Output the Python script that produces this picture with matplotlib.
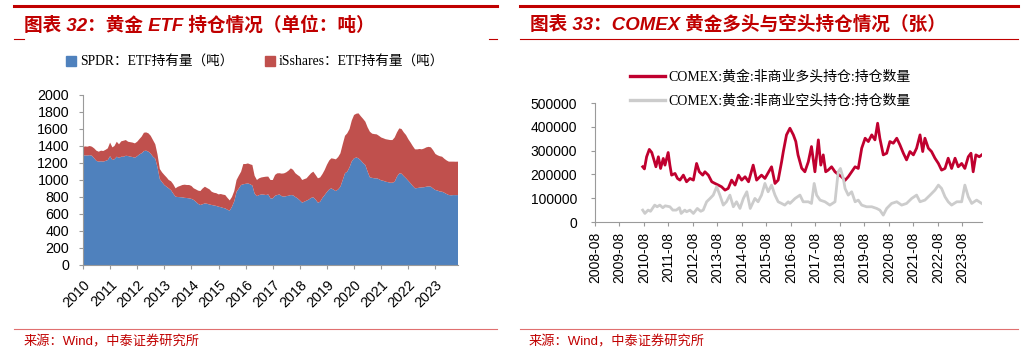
import numpy as np
import pandas as pd
import matplotlib
matplotlib.use("Agg")
import matplotlib.pyplot as plt
from matplotlib.patches import Patch
from matplotlib.lines import Line2D
from matplotlib.font_manager import FontProperties

# ---------------- data: left chart (monthly, tonnes) ----------------
etf_dates = pd.date_range("2010-01-01", periods=167, freq="MS")
spdr = [
    1286, 1290, 1288, 1292, 1286, 1255, 1225, 1216, 1220, 1216, 1225, 1235,  # 2010
    1280, 1235, 1245, 1274, 1260, 1274, 1274, 1285, 1282, 1275, 1270, 1262,  # 2011
    1280, 1302, 1315, 1341, 1345, 1333, 1310, 1274, 1250, 1150, 1010, 975,   # 2012
    941, 920, 902, 880, 840, 804, 800, 798, 796, 790, 788, 784,              # 2013
    778, 765, 745, 720, 706, 715, 725, 720, 712, 706, 700, 695,              # 2014
    686, 680, 672, 666, 650, 639, 686, 750, 862, 900, 941, 950,              # 2015
    955, 960, 950, 935, 840, 810, 823, 830, 828, 823, 830, 784,              # 2016
    784, 815, 823, 830, 810, 804, 810, 815, 823, 820, 800, 784,              # 2017
    760, 733, 745, 757, 770, 790, 796, 770, 733, 745, 790, 823,              # 2018
    860, 890, 902, 885, 870, 890, 921, 1000, 1080, 1098, 1150, 1220,         # 2019
    1255, 1265, 1255, 1230, 1200, 1176, 1100, 1031, 1025, 1020, 1020, 1010,  # 2020
    995, 990, 980, 975, 968, 968, 980, 1040, 1078, 1075, 1045, 1020,         # 2021
    990, 960, 930, 902, 905, 910, 913, 915, 921, 925, 921, 900,              # 2022
    882, 875, 865, 862, 850, 835, 823, 820, 823, 822, 823,                   # 2023
]
ishares = [
    104, 105, 104, 108, 106, 117, 120, 117, 125, 125, 130, 137,
    160, 149, 155, 176, 160, 181, 188, 185, 168, 170, 170, 169,
    170, 180, 195, 215, 215, 216, 210, 196, 170, 150, 120, 115,
    118, 110, 98, 105, 110, 98, 120, 132, 145, 155, 153, 157,
    152, 137, 145, 155, 164, 185, 196, 185, 178, 156, 150, 150,
    145, 155, 156, 157, 140, 121, 114, 120, 138, 150, 157, 238,
    233, 235, 235, 241, 210, 190, 197, 200, 207, 216, 210, 216,
    216, 245, 255, 250, 265, 274, 280, 295, 314, 300, 280, 275,
    280, 267, 265, 263, 280, 290, 302, 290, 287, 285, 280, 295,
    320, 340, 353, 365, 373, 380, 393, 420, 440, 451, 450, 480,
    510, 515, 529, 520, 520, 510, 520, 537, 520, 520, 517, 510,
    505, 500, 500, 500, 502, 502, 520, 520, 529, 525, 515, 509,
    490, 480, 470, 459, 455, 455, 448, 455, 463, 465, 463, 450,
    424, 415, 415, 412, 400, 395, 393, 396, 393, 393, 393,
]
etf_years = list(range(2010, 2024))

# ---------------- data: right chart (contracts, thousands) ----------------
long_t = [2010.53, 2010.60, 2010.69, 2010.80, 2010.90, 2010.99, 2011.07, 2011.17, 2011.26, 2011.37,
          2011.44, 2011.57, 2011.64, 2011.71, 2011.85, 2011.95, 2012.05, 2012.19, 2012.32, 2012.46,
          2012.60, 2012.73, 2012.84, 2012.98, 2013.07, 2013.21, 2013.35, 2013.48, 2013.62, 2013.75,
          2013.89, 2014.02, 2014.16, 2014.30, 2014.44, 2014.57, 2014.71, 2014.85, 2015.04, 2015.18,
          2015.38, 2015.52, 2015.79, 2015.93, 2016.06, 2016.20, 2016.27, 2016.40, 2016.54, 2016.68,
          2016.78, 2016.87, 2017.02, 2017.15, 2017.29, 2017.42, 2017.56, 2017.70, 2017.80, 2017.90,
          2018.00, 2018.10, 2018.24, 2018.38, 2018.51, 2018.65, 2018.79, 2018.92, 2019.06, 2019.20,
          2019.33, 2019.47, 2019.61, 2019.74, 2019.88, 2020.01, 2020.12, 2020.21, 2020.35, 2020.49,
          2020.62, 2020.76, 2020.90, 2021.03, 2021.17, 2021.30, 2021.44, 2021.58, 2021.71, 2021.85,
          2021.96, 2022.05, 2022.19, 2022.32, 2022.46, 2022.60, 2022.73, 2022.87, 2023.00, 2023.14,
          2023.28, 2023.41, 2023.55, 2023.68, 2023.82, 2023.93, 2024.02, 2024.13, 2024.27, 2024.37]
long_v = [232, 223, 274, 305, 292, 261, 232, 274, 225, 267,
          239, 292, 239, 197, 204, 183, 176, 197, 169, 183,
          176, 246, 211, 197, 211, 197, 169, 162, 155, 148,
          134, 141, 176, 155, 197, 176, 190, 169, 239, 176,
          197, 183, 232, 162, 176, 253, 296, 366, 394, 366,
          338, 282, 226, 211, 253, 317, 211, 345, 239, 282,
          211, 218, 232, 211, 200, 190, 175, 190, 211, 232,
          225, 310, 352, 338, 366, 345, 415, 352, 282, 289,
          338, 331, 352, 324, 289, 261, 296, 282, 310, 366,
          296, 352, 310, 296, 268, 246, 218, 225, 268, 225,
          268, 232, 246, 225, 274, 289, 211, 282, 274, 282]

short_t = [2010.53, 2010.62, 2010.75, 2010.85, 2011.02, 2011.12, 2011.23, 2011.35, 2011.45, 2011.64,
           2011.76, 2011.90, 2012.03, 2012.10, 2012.25, 2012.32, 2012.46, 2012.60, 2012.76, 2012.90,
           2013.00, 2013.14, 2013.28, 2013.41, 2013.55, 2013.68, 2013.82, 2013.95, 2014.09, 2014.23,
           2014.36, 2014.50, 2014.64, 2014.78, 2014.92, 2015.11, 2015.24, 2015.38, 2015.52, 2015.65,
           2015.79, 2015.93, 2016.06, 2016.20, 2016.33, 2016.47, 2016.54, 2016.75, 2016.95, 2017.08,
           2017.29, 2017.42, 2017.53, 2017.63, 2017.77, 2017.97, 2018.17, 2018.38, 2018.51, 2018.60,
           2018.72, 2018.79, 2018.92, 2019.06, 2019.20, 2019.33, 2019.47, 2019.67, 2019.88, 2020.08,
           2020.21, 2020.35, 2020.49, 2020.69, 2020.90, 2021.10, 2021.30, 2021.51, 2021.71, 2021.85,
           2022.05, 2022.26, 2022.46, 2022.60, 2022.73, 2022.87, 2023.00, 2023.14, 2023.35, 2023.55,
           2023.68, 2023.82, 2023.96, 2024.16, 2024.37]
short_v = [50, 36, 50, 45, 71, 64, 71, 60, 68, 64,
           50, 50, 60, 36, 50, 43, 50, 36, 57, 45,
           50, 85, 99, 113, 148, 113, 71, 85, 113, 64,
           85, 57, 99, 127, 57, 99, 85, 113, 162, 127,
           155, 113, 85, 78, 71, 85, 78, 99, 113, 85,
           85, 78, 162, 113, 92, 85, 71, 85, 211, 225,
           183, 141, 113, 127, 85, 92, 71, 64, 64, 57,
           50, 29, 57, 78, 85, 71, 78, 99, 113, 85,
           92, 113, 134, 155, 141, 106, 85, 71, 85, 85,
           155, 106, 78, 92, 78]
cot_years = list(range(2008, 2024))

long_label = "COMEX:黄金:非商业多头持仓:持仓数量"
short_label = "COMEX:黄金:非商业空头持仓:持仓数量"

# ---------------- figure ----------------
W, H = 1027, 352
fig = plt.figure(figsize=(W / 100, H / 100), dpi=100)


def fx(px):
    return px / W


def fy(py):
    return 1 - py / H


RED = "#C00000"
sans = ["Liberation Sans", "Noto Sans CJK SC"]
serif = ["Liberation Serif", "Noto Sans CJK SC"]


def hline(x0, x1, y, lw, color):
    fig.add_artist(Line2D([fx(x0), fx(x1)], [fy(y), fy(y)], lw=lw, color=color,
                          transform=fig.transFigure))


# header / footer decorations
hline(14, 497, 5.5, 2.2, RED)
hline(520, 1018, 5.5, 2.2, RED)
hline(14, 24, 39, 0.8, RED)
hline(489, 497, 39, 0.8, RED)
hline(520, 1018, 39, 0.8, RED)
hline(14, 497, 329, 0.8, "#E07070")
hline(520, 1018, 329, 0.8, "#E07070")

fig.text(fx(24), fy(25), "图表 32：黄金 ETF 持仓情况（单位：吨）", fontsize=13.4, weight="bold",
         style="italic", color=RED, va="center", family=sans)
fig.text(fx(530), fy(25), "图表 33：COMEX 黄金多头与空头持仓情况（张）", fontsize=13.4, weight="bold",
         style="italic", color=RED, va="center", family=sans)
fig.text(fx(24), fy(342), "来源：Wind，中泰证券研究所", fontsize=9.5, color=RED, va="center", family=sans)
fig.text(fx(529), fy(342), "来源：Wind，中泰证券研究所", fontsize=9.5, color=RED, va="center", family=sans)

SPINE = "#9A9A9A"

# ---------------- left chart ----------------
ax1 = fig.add_axes([fx(83), fy(265), (458 - 83) / W, (265 - 95) / H])
ax1.stackplot(etf_dates, spdr, ishares, colors=["#4F81BD", "#C0504D"], linewidth=0)
ax1.set_ylim(0, 2000)
ax1.set_yticks(range(0, 2001, 200))
ax1.set_xlim(etf_dates[0], etf_dates[-1])
ax1.set_xticks([pd.Timestamp(f"{y}-01-01") for y in etf_years])
ax1.set_xticklabels([str(y) for y in etf_years], rotation=45, ha="right", rotation_mode="anchor")
for s in ["top", "right"]:
    ax1.spines[s].set_visible(False)
for s in ["left", "bottom"]:
    ax1.spines[s].set_color(SPINE)
ax1.tick_params(axis="both", direction="out", length=3, color=SPINE, labelsize=10.3)
ax1.tick_params(axis="y", pad=7)
ax1.tick_params(axis="x", pad=6)
for lab in ax1.get_xticklabels() + ax1.get_yticklabels():
    lab.set_family(sans)

legend_font = FontProperties(family=serif, size=9.8)
fig.legend(handles=[Patch(color="#4F81BD", label="SPDR：ETF持有量（吨）"),
                    Patch(color="#C0504D", label="iSshares：ETF持有量（吨）")],
           loc="center", bbox_to_anchor=(fx(255), fy(62)), ncol=2, frameon=False,
           prop=legend_font, handlelength=0.75, handleheight=0.75, handletextpad=0.3,
           columnspacing=2.3)

# ---------------- right chart ----------------
ax2 = fig.add_axes([fx(595), fy(222), (982 - 595) / W, (222 - 103) / H])
ax2.plot(long_t, np.array(long_v) * 1000, color="#C0002F", lw=2.0)
ax2.plot(short_t, np.array(short_v) * 1000, color="#CCCCCC", lw=2.0)
ax2.set_ylim(0, 500000)
ax2.set_yticks(range(0, 500001, 100000))
ax2.set_xlim(2008 + 7 / 12, 2024.38)
ax2.set_xticks([y + 7 / 12 for y in cot_years])
ax2.set_xticklabels([f"{y}-08" for y in cot_years], rotation=90)
for s in ["top", "right"]:
    ax2.spines[s].set_visible(False)
for s in ["left", "bottom"]:
    ax2.spines[s].set_color(SPINE)
ax2.tick_params(axis="both", direction="out", length=3, color=SPINE, labelsize=10)
ax2.tick_params(axis="y", pad=10)
ax2.tick_params(axis="x", pad=4)
for lab in ax2.get_xticklabels() + ax2.get_yticklabels():
    lab.set_family(sans)

fig.legend(handles=[Line2D([], [], color="#C0002F", lw=2.4, label=long_label),
                    Line2D([], [], color="#CCCCCC", lw=2.4, label=short_label)],
           loc="upper left", bbox_to_anchor=(fx(630), fy(70)), frameon=False,
           borderpad=0, borderaxespad=0, handlelength=2.5, handletextpad=0.25,
           labelspacing=0.75, prop=FontProperties(family=serif, size=10))

fig.savefig("out.png", dpi=100)
